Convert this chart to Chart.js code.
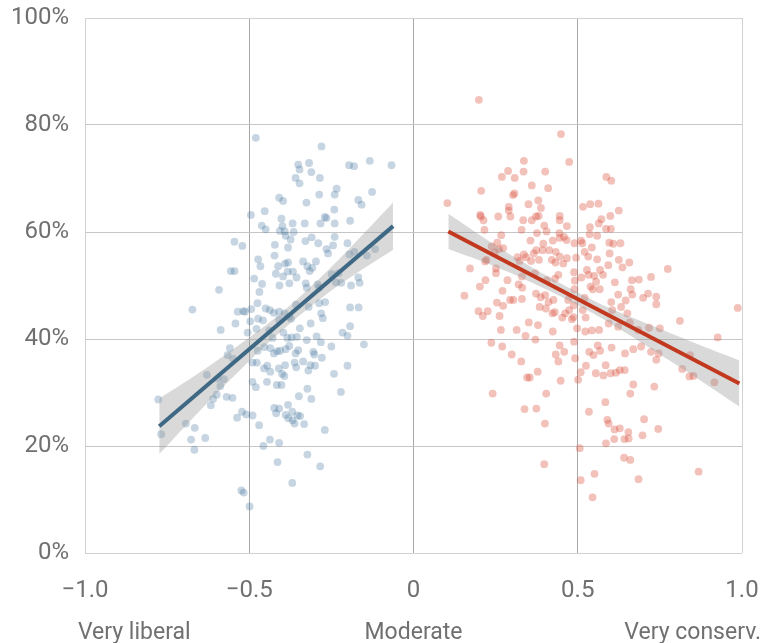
<!DOCTYPE html>
<html>
<head>
<meta charset="utf-8">
<script src="https://cdn.jsdelivr.net/npm/chart.js@4.4.1/dist/chart.umd.min.js"></script>
<style>
  html, body { margin: 0; padding: 0; background: #fff; }
  #wrap { width: 763px; height: 643px; }
</style>
</head>
<body>
<div id="wrap"><canvas id="grafico"></canvas></div>
<script>
// Ideología (-1 muy liberal, 1 muy conservador) vs porcentaje
var xTicks = [-1, -0.5, 0, 0.5, 1];
var xTickLabels = ['\u22121.0', '\u22120.5', '0', '0.5', '1.0'];
var yTicks = [0, 20, 40, 60, 80, 100];
var escalaEtiquetas = ['Very liberal', 'Moderate', 'Very conserv.'];
var escalaPosiciones = [-0.85, 0, 0.85];

// Puntos azules (liberales)
var blueX = [
  -0.480,-0.280,-0.351,-0.318,-0.347,-0.311,-0.196,-0.181,-0.133,-0.067,
  -0.359,-0.347,-0.285,-0.234,-0.240,-0.287,-0.126,-0.409,-0.397,-0.326,
  -0.168,-0.158,-0.241,-0.453,-0.495,-0.402,-0.270,-0.265,-0.193,-0.462,
  -0.450,-0.399,-0.368,-0.331,-0.283,-0.240,-0.407,-0.392,-0.365,-0.389,
  -0.374,-0.329,-0.310,-0.240,-0.545,-0.521,-0.422,-0.290,-0.245,-0.201,
  -0.382,-0.265,-0.260,-0.195,-0.180,-0.142,-0.117,-0.423,-0.473,-0.412,
  -0.391,-0.382,-0.336,-0.297,-0.466,-0.323,-0.308,-0.316,-0.556,-0.545,
  -0.419,-0.397,-0.383,-0.367,-0.356,-0.485,-0.168,-0.249,-0.228,-0.220,
  -0.461,-0.408,-0.378,-0.328,-0.325,-0.190,-0.164,-0.592,-0.469,-0.292,
  -0.287,-0.236,-0.475,-0.287,-0.269,-0.193,-0.167,-0.673,-0.535,-0.518,
  -0.513,-0.494,-0.450,-0.437,-0.425,-0.409,-0.392,-0.358,-0.319,-0.281,
  -0.276,-0.473,-0.542,-0.497,-0.458,-0.409,-0.379,-0.373,-0.346,-0.313,
  -0.587,-0.505,-0.478,-0.439,-0.429,-0.396,-0.384,-0.371,-0.355,-0.325,
  -0.295,-0.282,-0.216,-0.201,-0.193,-0.151,-0.559,-0.566,-0.549,-0.474,
  -0.454,-0.436,-0.425,-0.415,-0.406,-0.389,-0.378,-0.359,-0.351,-0.305,
  -0.302,-0.279,-0.250,-0.629,-0.596,-0.577,-0.588,-0.490,-0.477,-0.455,
  -0.445,-0.436,-0.410,-0.400,-0.393,-0.391,-0.362,-0.357,-0.336,-0.320,
  -0.314,-0.300,-0.242,-0.201,-0.610,-0.599,-0.617,-0.569,-0.551,-0.490,
  -0.480,-0.446,-0.416,-0.402,-0.349,-0.323,-0.311,-0.221,-0.777,-0.693,
  -0.666,-0.677,-0.667,-0.634,-0.768,-0.537,-0.522,-0.509,-0.490,-0.470,
  -0.424,-0.418,-0.409,-0.382,-0.389,-0.381,-0.369,-0.368,-0.362,-0.353,
  -0.345,-0.333,-0.270,-0.437,-0.409,-0.457,-0.323,-0.414,-0.284,-0.369,
  -0.524,-0.517,-0.499
];
var blueY = [
  77.6,76.0,72.6,72.9,71.7,71.2,72.5,72.3,73.3,72.5,
  70.1,69.1,70.1,68.1,67.0,67.0,67.5,66.4,65.8,65.5,
  66.0,65.1,64.2,63.9,63.2,62.5,62.8,62.6,62.1,61.2,
  60.5,61.1,61.6,61.6,61.6,61.6,60.2,60.1,60.0,59.3,
  58.6,58.3,59.0,59.1,58.2,57.4,57.6,57.9,57.5,57.9,
  57.1,56.8,56.0,55.8,56.3,55.6,56.8,55.6,54.9,53.6,
  54.1,54.3,54.5,54.5,53.6,53.6,53.3,52.7,52.7,52.7,
  52.2,51.7,52.6,52.6,51.5,51.3,51.5,52.1,52.3,50.5,
  50.3,50.0,50.4,50.4,49.6,50.0,50.5,49.2,48.8,50.2,
  49.6,50.6,46.7,46.7,46.9,45.9,45.9,45.5,45.1,45.2,
  45.1,45.6,45.7,45.4,44.9,45.1,44.8,46.4,46.0,44.8,
  43.9,43.8,42.9,43.3,43.5,43.6,44.2,43.8,42.0,42.9,
  41.7,41.2,41.9,41.6,40.2,41.2,40.2,40.3,40.4,39.8,
  40.5,39.4,41.2,40.6,42.4,39.0,38.3,37.0,36.3,37.8,
  38.5,38.3,37.3,37.7,37.8,38.1,38.7,37.3,37.9,37.6,
  37.1,36.5,38.6,33.3,32.6,32.5,31.2,35.6,35.6,34.5,
  35.0,33.9,34.5,33.5,33.1,35.1,35.6,34.7,35.8,34.1,
  35.1,35.0,33.5,35.0,28.8,29.6,27.6,29.2,29.0,32.0,
  31.0,32.0,31.4,31.4,29.3,30.7,28.8,30.1,28.7,24.2,
  23.4,21.2,19.3,21.5,22.2,25.3,26.4,25.9,25.7,23.9,
  27.1,26.1,27.0,27.7,25.8,25.2,26.4,24.8,24.2,25.7,
  25.6,24.1,23.0,21.2,20.6,20.0,18.4,17.0,16.2,13.1,
  11.7,11.3,8.7
];

// Puntos rojos (conservadores)
var redX = [
  0.199,0.449,0.474,0.336,0.288,0.335,0.401,0.269,0.308,0.587,
  0.602,0.360,0.410,0.206,0.307,0.303,0.103,0.350,0.380,0.388,
  0.516,0.538,0.563,0.290,0.290,0.625,0.203,0.205,0.213,0.258,
  0.295,0.334,0.360,0.373,0.381,0.445,0.445,0.599,0.572,0.564,
  0.398,0.467,0.537,0.586,0.601,0.216,0.329,0.376,0.405,0.444,
  0.458,0.267,0.445,0.466,0.490,0.510,0.514,0.536,0.559,0.596,
  0.608,0.630,0.255,0.356,0.395,0.424,0.238,0.260,0.273,0.247,
  0.317,0.336,0.366,0.374,0.393,0.413,0.433,0.445,0.467,0.495,
  0.521,0.543,0.532,0.597,0.218,0.222,0.251,0.323,0.343,0.358,
  0.382,0.421,0.432,0.456,0.559,0.593,0.625,0.636,0.657,0.172,
  0.251,0.219,0.286,0.330,0.320,0.370,0.406,0.431,0.441,0.489,
  0.491,0.511,0.528,0.533,0.550,0.556,0.568,0.577,0.613,0.539,
  0.567,0.546,0.665,0.686,0.723,0.774,0.155,0.202,0.271,0.331,
  0.373,0.387,0.401,0.411,0.294,0.304,0.330,0.426,0.490,0.471,
  0.521,0.623,0.646,0.661,0.666,0.699,0.714,0.739,0.254,0.273,
  0.198,0.211,0.226,0.262,0.384,0.403,0.423,0.430,0.462,0.474,
  0.488,0.487,0.482,0.515,0.524,0.602,0.605,0.632,0.651,0.739,
  0.266,0.314,0.351,0.379,0.424,0.453,0.498,0.523,0.543,0.565,
  0.594,0.623,0.658,0.684,0.717,0.750,0.811,0.237,0.270,0.341,
  0.371,0.299,0.328,0.445,0.489,0.459,0.535,0.548,0.561,0.568,
  0.603,0.644,0.669,0.693,0.723,0.746,0.433,0.441,0.492,0.739,
  0.842,0.378,0.346,0.354,0.448,0.501,0.509,0.525,0.555,0.578,
  0.585,0.600,0.616,0.628,0.643,0.818,0.840,0.852,0.916,0.926,
  0.987,0.241,0.404,0.584,0.660,0.669,0.733,0.338,0.374,0.534,
  0.400,0.590,0.594,0.612,0.628,0.654,0.702,0.745,0.586,0.611,
  0.642,0.655,0.697,0.506,0.398,0.641,0.660,0.868,0.551,0.509,
  0.685,0.545
];
var redY = [
  84.7,78.3,73.1,73.3,71.4,71.3,71.3,70.3,70.1,70.3,
  69.6,68.7,68.2,67.7,67.2,66.9,65.4,65.2,65.9,64.5,
  64.7,65.2,65.3,64.7,64.0,64.0,63.2,62.9,62.2,62.9,
  62.9,62.2,62.2,62.9,63.0,63.0,62.2,63.0,62.4,61.6,
  61.2,61.1,60.9,60.6,60.6,60.4,60.4,59.8,60.1,59.8,
  59.1,59.4,58.9,58.5,57.9,58.4,57.9,59.6,59.3,58.0,
  57.8,57.9,58.0,58.4,57.8,58.4,57.3,56.8,57.0,56.2,
  55.3,55.8,56.0,56.6,56.6,56.6,56.3,55.4,55.1,55.2,
  56.3,57.1,55.4,56.0,54.5,54.8,53.2,54.6,55.3,54.6,
  54.8,54.8,54.3,54.1,54.9,53.8,54.8,53.4,54.3,53.2,
  52.3,51.0,51.0,51.7,50.2,52.3,51.0,51.3,52.0,52.5,
  50.9,51.5,52.9,52.0,51.8,50.7,52.9,52.0,50.6,49.8,
  49.3,49.3,51.0,51.1,51.6,53.1,48.1,49.8,49.0,49.6,
  48.5,47.8,48.2,46.9,47.3,47.3,47.5,47.3,49.3,47.3,
  47.7,48.3,47.2,49.3,48.3,47.7,48.5,47.9,46.8,46.2,
  45.2,44.3,45.2,44.3,46.0,45.7,44.8,45.0,44.8,45.4,
  46.3,44.1,43.7,45.4,44.0,46.9,45.4,46.0,44.8,46.5,
  41.7,41.7,43.1,42.6,41.4,44.0,42.0,41.4,41.6,41.7,
  42.9,42.3,43.1,41.7,42.1,42.0,43.4,39.3,38.6,40.6,
  39.9,37.1,35.8,38.8,39.5,37.6,37.6,37.0,38.8,37.8,
  38.4,37.3,38.1,38.6,37.6,37.3,37.1,35.8,36.4,36.1,
  37.0,33.9,32.8,32.8,32.2,32.4,33.8,35.0,33.6,33.2,
  35.1,33.6,33.7,34.2,34.2,34.4,33.0,33.1,31.9,40.3,
  45.8,29.8,29.8,28.2,29.8,31.5,31.1,26.9,27.0,26.4,
  24.2,24.9,24.2,23.1,23.3,22.6,25.0,23.2,20.5,21.3,
  21.3,21.4,22.0,19.6,16.6,17.8,17.4,15.2,14.8,13.6,
  13.8,10.4
];

// Rectas de tendencia (extremos)
var blueLineX = [-0.774, -0.062];
var blueLineY = [23.7, 61.1];
var redLineX = [0.106, 0.992];
var redLineY = [60.1, 31.7];

// Bandas de confianza
var blueBandX = [-0.774, -0.65, -0.5, -0.4, -0.3, -0.2, -0.062];
var blueBandUpper = [28.9, 33.8, 40.3, 45.0, 50.5, 56.6, 65.5];
var blueBandLower = [18.5, 26.6, 35.9, 41.6, 46.7, 51.2, 56.7];
var redBandX = [0.106, 0.25, 0.4, 0.5, 0.6, 0.75, 0.85, 0.992];
var redBandUpper = [63.4, 57.5, 52.0, 48.7, 45.7, 41.9, 39.4, 36.0];
var redBandLower = [56.8, 53.5, 49.4, 46.3, 42.9, 37.1, 33.2, 27.4];

function pares(xs, ys) {
  return xs.map(function(x, i) { return { x: x, y: ys[i] }; });
}

Chart.defaults.font.family = 'Roboto, "Liberation Sans", sans-serif';
Chart.defaults.font.size = 24;
Chart.defaults.color = '#707070';

// Etiquetas de la escala ideológica debajo del eje
var etiquetasEscala = {
  id: 'etiquetasEscala',
  afterDraw: function(chart) {
    var ctx = chart.ctx;
    var xs = chart.scales.x;
    ctx.save();
    ctx.font = '23px Roboto, "Liberation Sans", sans-serif';
    ctx.fillStyle = '#707070';
    ctx.textAlign = 'center';
    ctx.textBaseline = 'middle';
    escalaEtiquetas.forEach(function(t, i) {
      ctx.fillText(t, xs.getPixelForValue(escalaPosiciones[i]), xs.bottom - 10);
    });
    ctx.restore();
  }
};

var bandaGris = 'rgba(150, 150, 150, 0.36)';
var ctx = document.getElementById('grafico').getContext('2d');
var chart = new Chart(ctx, {
  type: 'scatter',
  data: {
    datasets: [
      {
        type: 'line', data: pares(blueLineX, blueLineY), borderColor: '#3f6884',
        borderWidth: 4, pointRadius: 0, fill: false, order: 0
      },
      {
        type: 'line', data: pares(redLineX, redLineY), borderColor: '#c2391f',
        borderWidth: 4, pointRadius: 0, fill: false, order: 0
      },
      {
        type: 'line', data: pares(blueBandX, blueBandUpper), borderWidth: 0,
        borderColor: 'rgba(0,0,0,0)', backgroundColor: bandaGris, pointRadius: 0,
        tension: 0.4, fill: '+1', order: 1
      },
      {
        type: 'line', data: pares(blueBandX, blueBandLower), borderWidth: 0,
        borderColor: 'rgba(0,0,0,0)', pointRadius: 0, tension: 0.4, fill: false, order: 1
      },
      {
        type: 'line', data: pares(redBandX, redBandUpper), borderWidth: 0,
        borderColor: 'rgba(0,0,0,0)', backgroundColor: bandaGris, pointRadius: 0,
        tension: 0.4, fill: '+1', order: 1
      },
      {
        type: 'line', data: pares(redBandX, redBandLower), borderWidth: 0,
        borderColor: 'rgba(0,0,0,0)', pointRadius: 0, tension: 0.4, fill: false, order: 1
      },
      {
        data: pares(blueX, blueY), backgroundColor: 'rgba(60, 110, 150, 0.29)',
        borderWidth: 0, pointRadius: 3.9, order: 2
      },
      {
        data: pares(redX, redY), backgroundColor: 'rgba(218, 78, 58, 0.35)',
        borderWidth: 0, pointRadius: 3.9, order: 2
      }
    ]
  },
  options: {
    responsive: true,
    maintainAspectRatio: false,
    animation: false,
    events: [],
    layout: { padding: { top: 18, right: 21, left: 0, bottom: 0 } },
    scales: {
      x: {
        type: 'linear', min: -1, max: 1,
        afterBuildTicks: function(scale) {
          scale.ticks = xTicks.map(function(v) { return { value: v }; });
        },
        afterFit: function(scale) {
          scale.height = 90;
          scale.paddingLeft = 0;
          scale.paddingRight = 0;
        },
        ticks: {
          padding: 24,
          callback: function(v) { return xTickLabels[xTicks.indexOf(v)]; }
        },
        grid: {
          drawTicks: false,
          lineWidth: 1,
          color: function(c) {
            var v = c.tick ? c.tick.value : null;
            return (v === -1 || v === 1) ? '#d2d2d2' : '#a8a8a8';
          }
        },
        border: { display: false }
      },
      y: {
        min: 0, max: 100,
        afterBuildTicks: function(scale) {
          scale.ticks = yTicks.map(function(v) { return { value: v }; });
        },
        afterFit: function(scale) {
          scale.width = 85;
          scale.paddingTop = 0;
          scale.paddingBottom = 0;
        },
        ticks: {
          padding: 16,
          callback: function(v) { return v + '%'; }
        },
        grid: {
          drawTicks: false, lineWidth: 1,
          color: function(c) {
            var v = c.tick ? c.tick.value : null;
            return (v === 0 || v === 100) ? '#d2d2d2' : '#c6c6c6';
          }
        },
        border: { display: false }
      }
    },
    plugins: {
      legend: { display: false },
      tooltip: { enabled: false },
      title: { display: false }
    }
  },
  plugins: [etiquetasEscala]
});
</script>
</body>
</html>
